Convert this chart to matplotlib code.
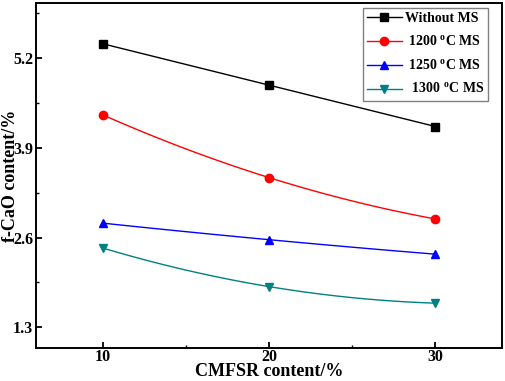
import numpy as np
import matplotlib.pyplot as plt

plt.rcParams['font.family'] = 'Liberation Serif'
plt.rcParams['font.weight'] = 'bold'
plt.rcParams['mathtext.fontset'] = 'custom'
plt.rcParams['mathtext.rm'] = 'Liberation Serif'
plt.rcParams['mathtext.bf'] = 'Liberation Serif:bold'

# data
cmfsr = [10, 20, 30]
without_ms = [5.41, 4.81, 4.21]
ms_1200 = [4.38, 3.47, 2.87]
ms_1250 = [2.81, 2.57, 2.36]
ms_1300 = [2.45, 1.89, 1.65]

series = [
    (without_ms, 'Without MS', 'black', 's'),
    (ms_1200, r' 1200 $^{\mathbf{o}}$C MS', '#ff0000', 'o'),
    (ms_1250, r' 1250 $^{\mathbf{o}}$C MS', '#0000ff', '^'),
    (ms_1300, r'  1300 $^{\mathbf{o}}$C MS', '#008080', 'v'),
]

fig = plt.figure(figsize=(5.05, 3.81), dpi=100)
ax = fig.add_axes([0.0713, 0.0866, 0.9227, 0.9055])

xs = np.linspace(10, 30, 100)
for vals, lab, col, mk in series:
    # smooth curve through the three points (like Origin spline)
    coef = np.polyfit(cmfsr, vals, 2)
    ax.plot(xs, np.polyval(coef, xs), color=col, lw=1.0)
    ax.plot(cmfsr, vals, linestyle='none', marker=mk, color=col, markersize=6)
    ax.plot([], [], color=col, lw=1.0, marker=mk, markersize=6, label=lab)

ax.set_xlim(6, 34)
ax.set_ylim(1.0, 6.0)
ax.set_xticks([10, 20, 30])
ax.set_xticks([15, 25], minor=True)
ax.set_yticks([1.3, 2.6, 3.9, 5.2])
ax.set_yticks([1.95, 3.25, 4.55, 5.85], minor=True)
ax.tick_params(axis='both', which='major', direction='in', length=4, width=1.3,
               labelsize=11.5)
ax.tick_params(axis='x', which='major', pad=0.5)
ax.tick_params(axis='y', which='major', pad=2)
ax.tick_params(axis='both', which='minor', direction='in', length=2.5, width=1.0)
for lab in ax.get_xticklabels() + ax.get_yticklabels():
    lab.set_fontweight('bold')
    lab.set_fontsize(11.5)
for sp in ax.spines.values():
    sp.set_linewidth(1.4)

ax.set_xlabel('CMFSR content/%', fontsize=13, fontweight='bold')
ax.set_ylabel('f-CaO content/%', fontsize=13, fontweight='bold')
ax.xaxis.set_label_coords(0.5, -0.044)
ax.yaxis.set_label_coords(-0.036, 0.5)

leg = ax.legend(loc='upper right', bbox_to_anchor=(0.970, 0.9855), borderaxespad=0,
                fancybox=False, edgecolor='gray', framealpha=1, handlelength=2.5,
                handletextpad=0.2, labelspacing=0.65, borderpad=0.3,
                prop={'weight': 'bold', 'size': 10})
leg.get_frame().set_linewidth(1.0)

fig.savefig('out.png', dpi=100)
